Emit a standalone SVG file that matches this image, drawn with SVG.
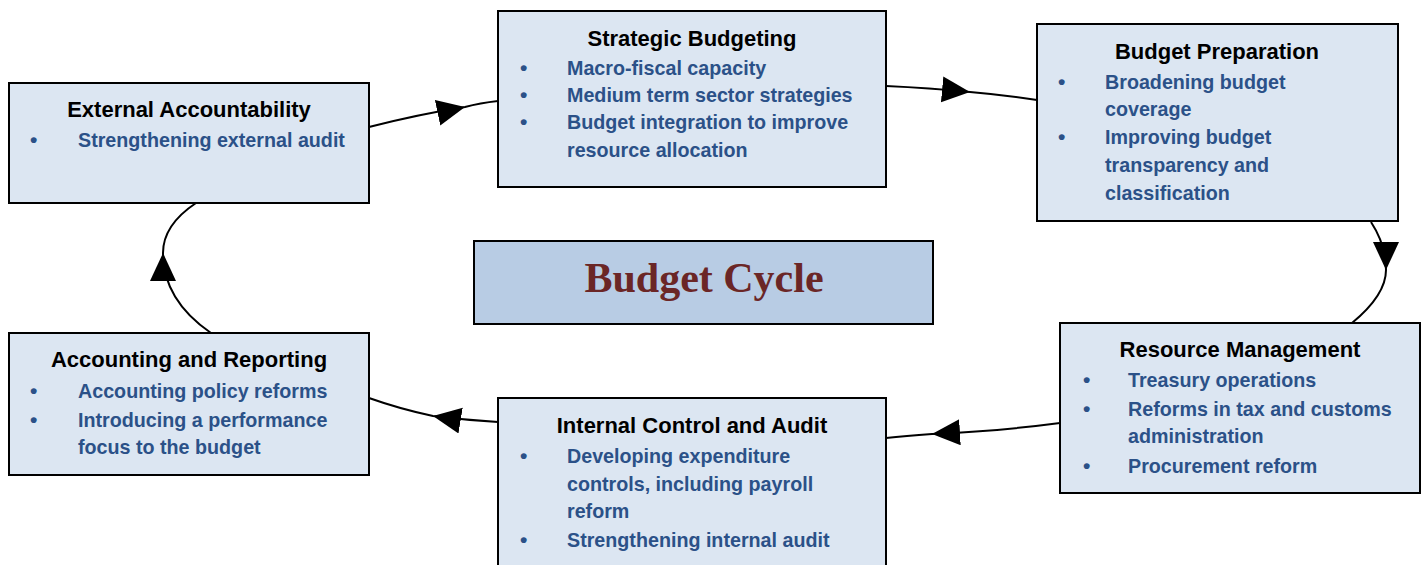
<svg xmlns="http://www.w3.org/2000/svg" width="1421" height="565" viewBox="0 0 1421 565">
<style>
.box{fill:#DCE6F2;stroke:#000;stroke-width:2}
.center{fill:#B8CCE4;stroke:#000;stroke-width:2}
.t{font-family:"Liberation Sans",Arial,sans-serif;font-weight:bold;font-size:22px;fill:#000;text-anchor:middle}
.b{font-family:"Liberation Sans",Arial,sans-serif;font-weight:bold;font-size:19.7px;fill:#2B5188}
.d{font-family:"Liberation Sans",Arial,sans-serif;font-weight:bold;font-size:21px;fill:#2B5188}
.c{font-family:"Liberation Serif","Times New Roman",serif;font-weight:bold;font-size:42px;fill:#6B2626;text-anchor:middle}
.con{fill:none;stroke:#000;stroke-width:2;marker-mid:url(#arr)}
</style>
<defs>
<marker id="arr" markerUnits="userSpaceOnUse" markerWidth="30" markerHeight="28" refX="28" refY="13" orient="auto" viewBox="0 0 30 28">
<path d="M0,0 L28,13 L0,26 z" fill="#000"/>
</marker>
</defs>
<g id="connectors">
<path class="con" d="M369,127 Q420,114 465,107 Q480,103 498,101"/>
<path class="con" d="M886,86 Q930,88 970,92 Q1005,95 1037,100"/>
<path class="con" d="M1371,222 Q1386,245 1386,270 Q1386,295 1352,323"/>
<path class="con" d="M1060,423 Q1000,431 932,434 Q905,436 886,438"/>
<path class="con" d="M498,422 Q465,420 433,416 Q400,409 369,398"/>
<path class="con" d="M211,333 Q163,300 163,253 Q163,225 196,203"/>
</g>
<g id="external">
<rect class="box" x="9" y="83" width="360" height="120"/>
<text class="t" x="189" y="117">External Accountability</text>
<text class="d" x="30" y="147">•</text><text class="b" x="78" y="147">Strengthening external audit</text>
</g>
<g id="strategic">
<rect class="box" x="498" y="11" width="388" height="176"/>
<text class="t" x="692" y="46">Strategic Budgeting</text>
<text class="d" x="520" y="75">•</text><text class="b" x="567" y="75">Macro-fiscal capacity</text>
<text class="d" x="520" y="102">•</text><text class="b" x="567" y="102">Medium term sector strategies</text>
<text class="d" x="520" y="129">•</text><text class="b" x="567" y="129">Budget integration to improve</text>
<text class="b" x="567" y="157">resource allocation</text>
</g>
<g id="preparation">
<rect class="box" x="1037" y="24" width="361" height="197"/>
<text class="t" x="1217" y="59">Budget Preparation</text>
<text class="d" x="1058" y="89">•</text><text class="b" x="1105" y="89">Broadening budget</text>
<text class="b" x="1105" y="116">coverage</text>
<text class="d" x="1058" y="144">•</text><text class="b" x="1105" y="144">Improving budget</text>
<text class="b" x="1105" y="172">transparency and</text>
<text class="b" x="1105" y="200">classification</text>
</g>
<g id="resource">
<rect class="box" x="1060" y="323" width="360" height="170"/>
<text class="t" x="1240" y="357">Resource Management</text>
<text class="d" x="1083" y="387">•</text><text class="b" x="1128" y="387">Treasury operations</text>
<text class="d" x="1083" y="416">•</text><text class="b" x="1128" y="416">Reforms in tax and customs</text>
<text class="b" x="1128" y="443">administration</text>
<text class="d" x="1083" y="473">•</text><text class="b" x="1128" y="473">Procurement reform</text>
</g>
<g id="internal">
<rect class="box" x="498" y="398" width="388" height="180"/>
<text class="t" x="692" y="433">Internal Control and Audit</text>
<text class="d" x="520" y="463">•</text><text class="b" x="567" y="463">Developing expenditure</text>
<text class="b" x="567" y="491">controls, including payroll</text>
<text class="b" x="567" y="518">reform</text>
<text class="d" x="520" y="547">•</text><text class="b" x="567" y="547">Strengthening internal audit</text>
</g>
<g id="accounting">
<rect class="box" x="9" y="333" width="360" height="142"/>
<text class="t" x="189" y="367">Accounting and Reporting</text>
<text class="d" x="30" y="398">•</text><text class="b" x="78" y="398">Accounting policy reforms</text>
<text class="d" x="30" y="427">•</text><text class="b" x="78" y="427">Introducing a performance</text>
<text class="b" x="78" y="454">focus to the budget</text>
</g>
<g id="cycle">
<rect class="center" x="474" y="241" width="459" height="83"/>
<text class="c" x="704" y="292">Budget Cycle</text>
</g>
</svg>
